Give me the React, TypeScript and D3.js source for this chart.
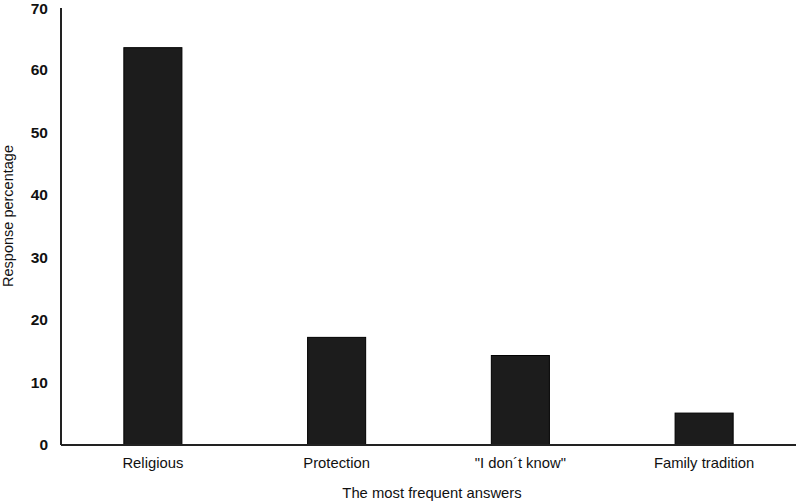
import React from "react";
import * as d3 from "d3";

const categories = ["Religious", "Protection", "\"I don´t know\"", "Family tradition"];
const values = [63.5, 17.2, 14.3, 5.1];
const yTicks = [0, 10, 20, 30, 40, 50, 60, 70];

const W = 797;
const H = 501;
const left = 61;
const right = 796;
const top = 7;
const bottom = 445;

export default function App() {
  const x = d3.scaleBand<string>().domain(categories).range([left, right]).paddingInner(0.684).paddingOuter(0.342);
  const y = d3.scaleLinear().domain([0, 70]).range([bottom, top]);
  const font = "'Liberation Sans', Arial, sans-serif";
  return (
    <svg width={W} height={H} style={{ position: "absolute", left: 0, top: 0, background: "#fff" }} fontFamily={font}>
      {categories.map((c, i) => (
        <rect key={c} x={x(c)} y={y(values[i])} width={x.bandwidth()} height={y(0) - y(values[i])}
          fill="#1c1c1c" stroke="#000" strokeWidth={1} />
      ))}
      <line x1={left} x2={left} y1={8} y2={bottom} stroke="#222" strokeWidth={2} />
      <line x1={left} x2={right} y1={bottom} y2={bottom} stroke="#222" strokeWidth={2} />
      {yTicks.map((t) => (
        <text key={t} x={48} y={Math.max(y(t), 9)} dy="0.35em" textAnchor="end" fontSize={15.5} fontWeight={600} fill="#111">{t}</text>
      ))}
      {categories.map((c) => (
        <text key={c} x={(x(c) as number) + x.bandwidth() / 2} y={468} textAnchor="middle" fontSize={14.8} fill="#111">{c}</text>
      ))}
      <text x={432} y={498} textAnchor="middle" fontSize={14.8} fill="#111">The most frequent answers</text>
      <text transform={`translate(13, 216) rotate(-90)`} textAnchor="middle" fontSize={14.5} fill="#111">Response percentage</text>
    </svg>
  );
}
